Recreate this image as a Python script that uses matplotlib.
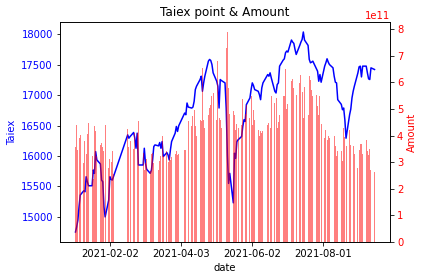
import matplotlib
matplotlib.use("Agg")
import matplotlib.pyplot as plt
import matplotlib.dates as mdates
import pandas as pd

dates = [
    "2021-01-04", "2021-01-05", "2021-01-06", "2021-01-07", "2021-01-08",
    "2021-01-11", "2021-01-12", "2021-01-13", "2021-01-14", "2021-01-15",
    "2021-01-18", "2021-01-19", "2021-01-20", "2021-01-21", "2021-01-22",
    "2021-01-25", "2021-01-26", "2021-01-27", "2021-01-28", "2021-01-29",
    "2021-02-01", "2021-02-02", "2021-02-03", "2021-02-04", "2021-02-05",
    "2021-02-17", "2021-02-18", "2021-02-19",
    "2021-02-22", "2021-02-23", "2021-02-24", "2021-02-25", "2021-02-26",
    "2021-03-02", "2021-03-03", "2021-03-04", "2021-03-05",
    "2021-03-08", "2021-03-09", "2021-03-10", "2021-03-11", "2021-03-12",
    "2021-03-15", "2021-03-16", "2021-03-17", "2021-03-18", "2021-03-19",
    "2021-03-22", "2021-03-23", "2021-03-24", "2021-03-25", "2021-03-26",
    "2021-03-29", "2021-03-30", "2021-03-31", "2021-04-01",
    "2021-04-06", "2021-04-07", "2021-04-08", "2021-04-09",
    "2021-04-12", "2021-04-13", "2021-04-14", "2021-04-15", "2021-04-16",
    "2021-04-19", "2021-04-20", "2021-04-21", "2021-04-22", "2021-04-23",
    "2021-04-26", "2021-04-27", "2021-04-28", "2021-04-29", "2021-04-30",
    "2021-05-03", "2021-05-04", "2021-05-05", "2021-05-06", "2021-05-07",
    "2021-05-10", "2021-05-11", "2021-05-12", "2021-05-13", "2021-05-14",
    "2021-05-17", "2021-05-18", "2021-05-19", "2021-05-20", "2021-05-21",
    "2021-05-24", "2021-05-25", "2021-05-26", "2021-05-27", "2021-05-28",
    "2021-05-31", "2021-06-01", "2021-06-02", "2021-06-03", "2021-06-04",
    "2021-06-07", "2021-06-08", "2021-06-09", "2021-06-10", "2021-06-11",
    "2021-06-15", "2021-06-16", "2021-06-17", "2021-06-18",
    "2021-06-21", "2021-06-22", "2021-06-23", "2021-06-24", "2021-06-25",
    "2021-06-28", "2021-06-29", "2021-06-30", "2021-07-01", "2021-07-02",
    "2021-07-05", "2021-07-06", "2021-07-07", "2021-07-08", "2021-07-09",
    "2021-07-12", "2021-07-13", "2021-07-14", "2021-07-15", "2021-07-16",
    "2021-07-19", "2021-07-20", "2021-07-21", "2021-07-22", "2021-07-23",
    "2021-07-26", "2021-07-27", "2021-07-28", "2021-07-29", "2021-07-30",
    "2021-08-02", "2021-08-03", "2021-08-04", "2021-08-05", "2021-08-06",
    "2021-08-09", "2021-08-10", "2021-08-11", "2021-08-12", "2021-08-13",
    "2021-08-16", "2021-08-17", "2021-08-18", "2021-08-19", "2021-08-20",
    "2021-08-23", "2021-08-24", "2021-08-25", "2021-08-26", "2021-08-27",
    "2021-08-30", "2021-08-31", "2021-09-01", "2021-09-02", "2021-09-03",
    "2021-09-06", "2021-09-07", "2021-09-08", "2021-09-09", "2021-09-10",
    "2021-09-13",
]

taiex = [
    14752, 14835, 14945, 15165, 15358,
    15430, 15413, 15660, 15578, 15512,
    15512, 15770, 15715, 16073, 15936,
    15870, 15605, 15578, 15165, 15000,
    15275, 15660, 15616, 15605, 15660,
    16348, 16293, 16320,
    16387, 16293, 16128, 16376, 15853,
    15853, 16128, 15880, 15782,
    15716, 15770, 15936, 16156, 16183,
    16167, 16222, 16128, 16238, 15991,
    16057, 16018, 15936, 16101, 16238,
    16376, 16486, 16404, 16497,
    16706, 16679, 16871, 16805,
    16788, 16805, 16899, 17092, 17147,
    17257, 17312, 17064, 17202, 17312,
    17559, 17587, 17570, 17504, 17367,
    17229, 17147, 16789, 17257, 17240,
    17202, 16789, 16018, 15550, 15716,
    15231, 16046, 15963, 16238, 16266,
    16321, 16486, 16596, 16569, 16844,
    16954, 17092, 17202, 17158, 17092,
    17064, 17009, 16926, 17119, 17202,
    17339, 17312, 17367, 17284,
    17064, 17036, 17174, 17202, 17477,
    17576, 17598, 17697, 17725, 17708,
    17906, 17873, 17851, 17752, 17669,
    17818, 17873, 17917, 18038, 17906,
    17818, 17587, 17532, 17543, 17559,
    17433, 17394, 17229, 17339, 17213,
    17477, 17532, 17598, 17543, 17504,
    17449, 17312, 17213, 17202, 16926,
    16849, 16761, 16789, 16596, 16293,
    16679, 16772, 16954, 17064, 17147,
    17367, 17466, 17477, 17300, 17477,
    17477, 17367, 17268, 17257, 17449,
    17422,
]

amount_1e11 = [
    3.55, 4.41, 3.47, 3.90, 4.03,
    2.97, 3.78, 3.30, 4.07, 4.47,
    3.22, 2.37, 4.34, 4.18, 3.22,
    3.63, 3.72, 3.55, 3.40, 4.40,
    2.79, 3.13, 2.99, 3.40, 2.55,
    4.26, 3.55, 3.80,
    3.50, 4.09, 3.90, 4.09, 4.56,
    3.34, 2.72, 2.97, 3.10,
    2.65, 3.30, 3.34, 2.97, 3.20,
    2.72, 3.03, 3.22, 3.99, 3.22,
    3.40, 3.00, 3.28, 3.09, 3.20,
    3.32, 3.40, 3.28, 3.30,
    3.44, 3.44, 3.50, 4.53,
    4.34, 4.74, 4.94, 4.34, 3.99,
    4.59, 4.53, 6.53, 4.59, 4.30,
    4.78, 5.03, 5.16, 5.49, 5.60,
    4.60, 6.78, 4.66, 4.59, 4.30,
    4.50, 7.28, 7.87, 5.78, 4.80,
    4.91, 4.78, 4.22, 4.44, 4.28,
    4.41, 5.38, 5.09, 4.80, 5.16,
    4.66, 5.47, 4.41, 4.97, 4.60,
    4.20, 3.97, 4.16, 4.09, 4.16,
    4.41, 4.47, 4.30, 5.49,
    5.22, 5.41, 4.28, 4.50, 4.78,
    5.47, 5.47, 6.50, 5.00, 5.20,
    6.03, 6.12, 5.80, 6.47, 5.53,
    5.97, 6.28, 5.62, 4.66, 5.84,
    4.78, 6.25, 6.10, 5.72, 5.50,
    5.53, 5.09, 4.78, 5.49, 4.44,
    3.90, 4.20, 3.82, 3.97, 3.90,
    3.53, 3.97, 3.59, 3.22, 3.40,
    3.40, 3.03, 4.28, 3.94, 3.60,
    4.22, 3.65, 4.03, 3.59, 3.30,
    2.78, 3.47, 3.69, 3.69, 3.30,
    3.84, 3.40, 3.28, 3.50, 2.72,
    2.63,
]

tick_dates = ["2021-02-02", "2021-04-03", "2021-06-02", "2021-08-01"]

x = pd.to_datetime(dates)
amount = [a * 1e11 for a in amount_1e11]

fig = plt.figure(figsize=(424 / 72, 280 / 72), dpi=72)
ax = fig.add_subplot(111)
fig.subplots_adjust(left=60 / 424, right=390 / 424, top=1 - 22 / 280, bottom=1 - 242 / 280)

ax.plot(x, taiex, color="b", lw=1.5)
ax.set_ylabel("Taiex", color="b")
ax.tick_params(axis="y", labelcolor="b")
ax.set_xlabel("date")
ax.set_title("Taiex point & Amount")

ax2 = ax.twinx()
ax2.bar(x, amount, color="r", alpha=0.5, width=0.8)
ax2.set_ylabel("Amount", color="r")
ax2.tick_params(axis="y", labelcolor="r")
ax2.yaxis.get_offset_text().set_color("r")

ax.set_xticks(pd.to_datetime(tick_dates))
ax.xaxis.set_major_formatter(mdates.DateFormatter("%Y-%m-%d"))

fig.savefig("out.png", dpi=72)
